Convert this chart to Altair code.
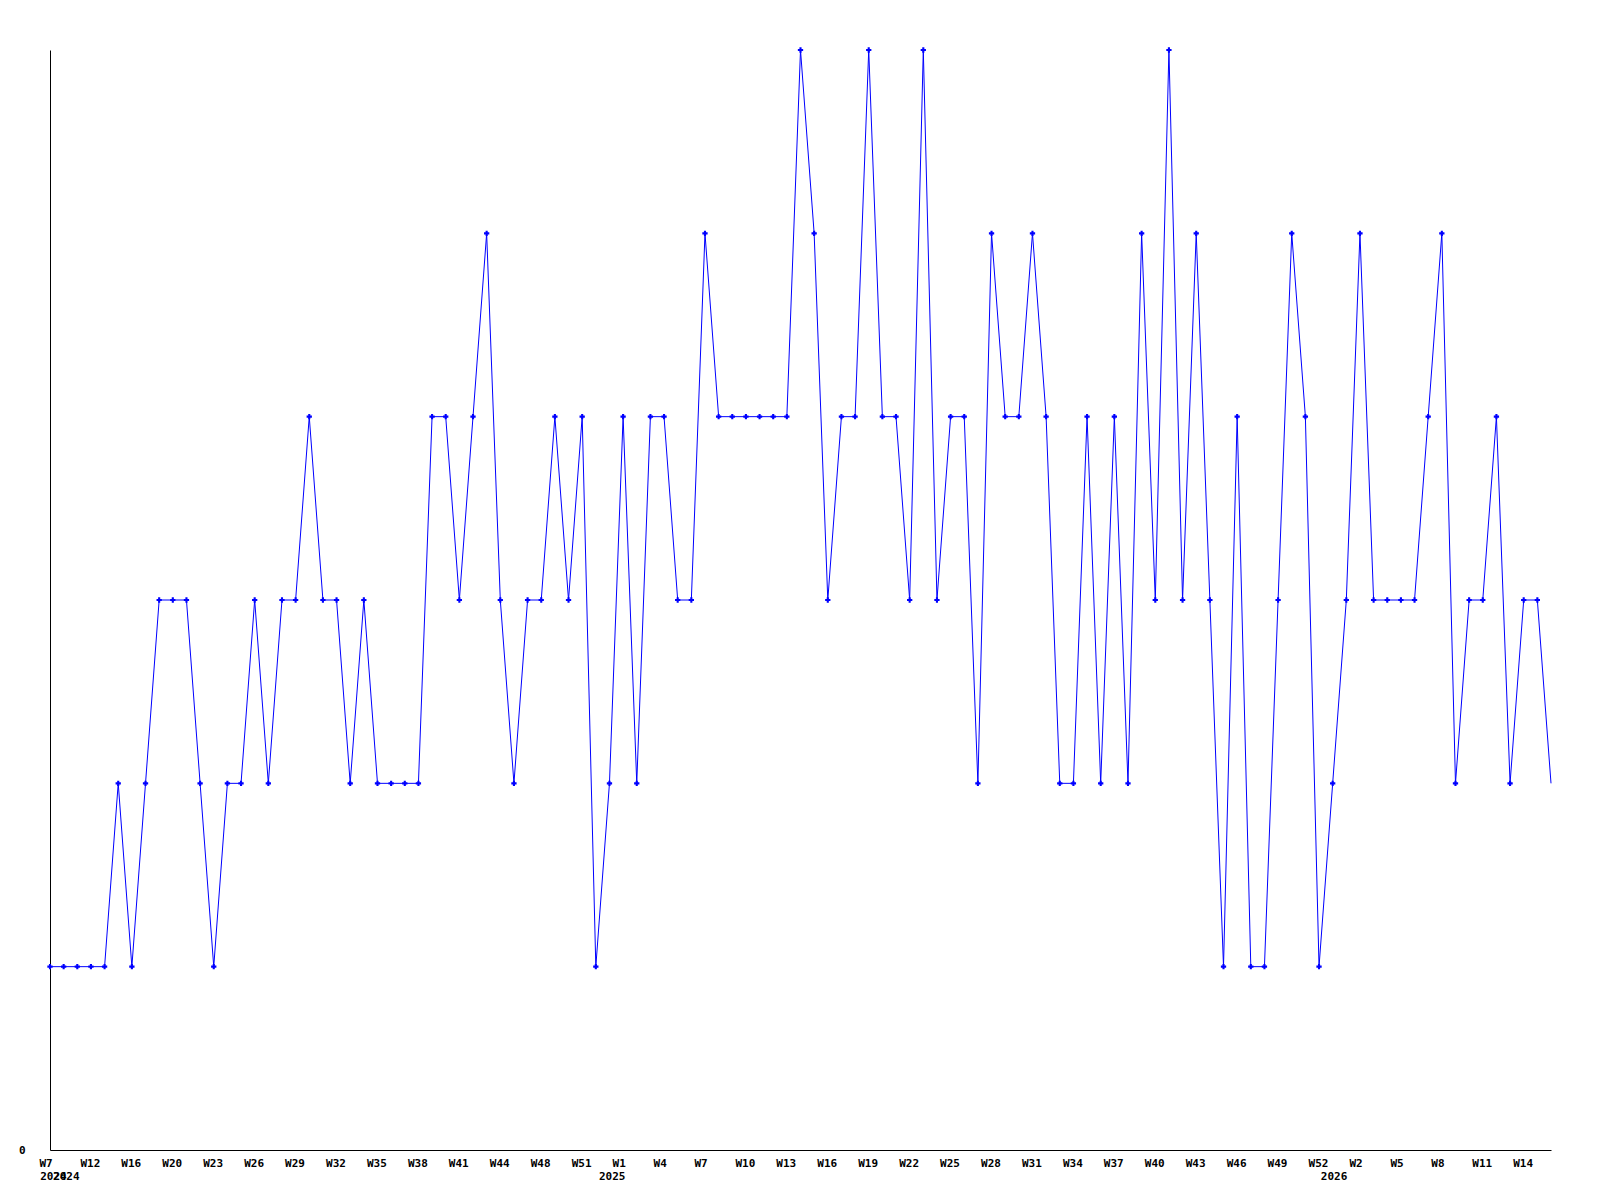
import altair as alt
import pandas as pd

values = [1, 1, 1, 1, 1, 2, 1, 2, 3, 3,
          3, 2, 1, 2, 2, 3, 2, 3, 3, 4,
          3, 3, 2, 3, 2, 2, 2, 2, 4, 4,
          3, 4, 5, 3, 2, 3, 3, 4, 3, 4,
          1, 2, 4, 2, 4, 4, 3, 3, 5, 4,
          4, 4, 4, 4, 4, 6, 5, 3, 4, 4,
          6, 4, 4, 3, 6, 3, 4, 4, 2, 5,
          4, 4, 5, 4, 2, 2, 4, 2, 4, 2,
          5, 3, 6, 3, 5, 3, 1, 4, 1, 1,
          3, 5, 4, 1, 2, 3, 5, 3, 3, 3,
          3, 4, 5, 2, 3, 3, 4, 2, 3, 3, 2]

week_labels = ["W7", "W12", "W16", "W20", "W23", "W26", "W29", "W32", "W35",
               "W38", "W41", "W44", "W48", "W51", "W1", "W4", "W7", "W10",
               "W13", "W16", "W19", "W22", "W25", "W28", "W31", "W34", "W37",
               "W40", "W43", "W46", "W49", "W52", "W2", "W5", "W8", "W11", "W14"]

year_labels = ["2024", "2024", "2025", "2026"]
year_pos = [0.25, 1.2, 41.2, 94.1]

FONT = "DejaVu Sans Mono"
BLUE = "#0000ff"

n = len(values)
df = pd.DataFrame({"i": list(range(n)), "v": values})
df["marker"] = [1 if k < n - 1 else 0 for k in range(n)]
ydf = pd.DataFrame({"label": year_labels, "pos": year_pos})

tick_vals = list(range(0, 3 * len(week_labels), 3))
label_expr = "[" + ",".join("'%s'" % w for w in week_labels) + "][round(datum.value/3)]"

xscale = alt.Scale(domain=[0, n - 1], nice=False, zero=False)
yscale = alt.Scale(domain=[0, 6], nice=False, zero=True)

x_axis = alt.Axis(values=tick_vals, labelExpr=label_expr, title=None, grid=False,
                  ticks=False, tickSize=0, labelAlign="left", labelOffset=-11,
                  labelBaseline="alphabetic", labelPadding=16, labelOverlap=False,
                  labelBound=False, labelFlush=False, domainColor="black",
                  domainWidth=1, labelFont=FONT, labelFontSize=11,
                  labelFontWeight="bold", labelColor="black")
y_axis = alt.Axis(values=[0], format="d", title=None, grid=False, ticks=False,
                  tickSize=0, labelPadding=25, domainColor="black", domainWidth=1,
                  labelFont=FONT, labelFontSize=11, labelFontWeight="bold",
                  labelColor="black", labelBaseline="middle")

base = alt.Chart(df)
line = base.mark_line(color=BLUE, strokeWidth=1).encode(
    x=alt.X("i:Q", scale=xscale, axis=x_axis),
    y=alt.Y("v:Q", scale=yscale, axis=y_axis),
)
points = base.transform_filter("datum.marker == 1").mark_point(
    shape="cross", filled=True, size=28, color=BLUE, opacity=1
).encode(
    x=alt.X("i:Q", scale=xscale),
    y=alt.Y("v:Q", scale=yscale),
)
years = alt.Chart(ydf).mark_text(
    font=FONT, fontSize=11, fontWeight="bold", baseline="alphabetic",
    align="center", color="black"
).encode(
    x=alt.X("pos:Q", scale=xscale),
    y=alt.value(1130),
    text="label:N",
)

chart = alt.layer(line, points, years).properties(
    width=1501, height=1100,
    autosize=alt.AutoSizeParams(type="none"),
    padding={"left": 42, "top": 42, "right": 20, "bottom": 40},
    background="white",
).configure_view(stroke=None)

chart.save("out.html", embed_options={"renderer": "svg", "actions": False})
